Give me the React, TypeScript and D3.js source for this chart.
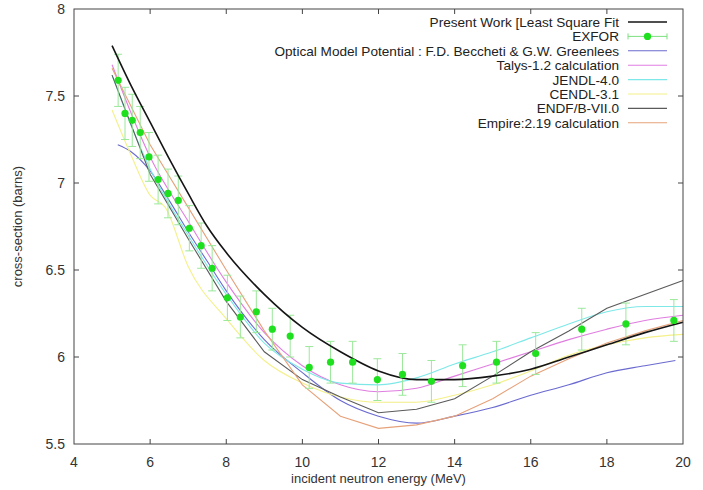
import React from 'react';
import * as d3 from 'd3';

// EXFOR measurements
const exforE = [5.16, 5.34, 5.53, 5.74, 5.97, 6.21, 6.47, 6.74, 7.03, 7.34, 7.63, 8.03, 8.37, 8.79, 9.21, 9.68, 10.18, 10.74, 11.32, 11.97, 12.63, 13.39, 14.21, 15.1, 16.13, 17.34, 18.5, 19.76];
const exforXS = [7.59, 7.40, 7.36, 7.29, 7.15, 7.02, 6.94, 6.90, 6.74, 6.64, 6.51, 6.34, 6.23, 6.26, 6.16, 6.12, 5.94, 5.97, 5.97, 5.87, 5.90, 5.86, 5.95, 5.97, 6.02, 6.16, 6.19, 6.21];
const exforErr = [0.15, 0.15, 0.15, 0.15, 0.14, 0.14, 0.14, 0.14, 0.13, 0.13, 0.13, 0.13, 0.12, 0.12, 0.12, 0.12, 0.12, 0.12, 0.12, 0.12, 0.12, 0.12, 0.12, 0.12, 0.12, 0.12, 0.12, 0.12];

// least square fit (present work)
const fitE = [5, 5.5, 6, 6.5, 7, 7.5, 8, 9, 10, 11, 12, 13, 14, 15, 16, 17, 18, 19, 20];
const fitXS = [7.79, 7.56, 7.35, 7.14, 6.94, 6.75, 6.60, 6.36, 6.17, 6.03, 5.92, 5.87, 5.87, 5.89, 5.93, 6.00, 6.07, 6.14, 6.20];

// optical model potential
const omE = [5.15, 5.5, 6, 6.5, 7, 7.5, 8, 9, 10, 11, 12, 13, 14, 15, 16, 17, 18, 19, 19.8];
const omXS = [7.22, 7.18, 7.07, 6.90, 6.72, 6.55, 6.38, 6.10, 5.91, 5.75, 5.66, 5.62, 5.66, 5.71, 5.78, 5.84, 5.91, 5.95, 5.98];

const talysE = [5, 6, 7, 8, 9, 10, 11, 12, 13, 14, 15, 16, 17, 18, 19, 20];
const talysXS = [7.68, 7.15, 6.78, 6.43, 6.14, 5.95, 5.84, 5.80, 5.82, 5.89, 5.96, 6.03, 6.10, 6.16, 6.21, 6.24];

const jendlE = [5, 5.5, 6, 7, 8, 9, 10, 11, 12, 13, 14, 15, 16, 17, 18, 19, 20];
const jendlXS = [7.62, 7.33, 7.08, 6.70, 6.36, 6.08, 5.93, 5.85, 5.84, 5.88, 5.96, 6.03, 6.11, 6.19, 6.26, 6.29, 6.29];

const cendlE = [5, 5.5, 6, 6.4, 7, 8, 9, 10, 11, 12, 13, 14, 15, 16, 17, 18, 19, 20];
const cendlXS = [7.42, 7.16, 6.93, 6.86, 6.52, 6.22, 5.98, 5.85, 5.77, 5.74, 5.74, 5.78, 5.84, 5.92, 6.01, 6.07, 6.11, 6.13];

const endfE = [5, 6, 7, 8, 9, 10, 11, 12, 13, 14, 15, 16, 17, 18, 20];
const endfXS = [7.62, 7.05, 6.68, 6.32, 6.03, 5.87, 5.77, 5.68, 5.70, 5.76, 5.89, 6.03, 6.15, 6.28, 6.44];

const empireE = [5, 6, 7, 8, 9, 10, 11, 12, 13, 14, 15, 16, 17, 18, 19, 20];
const empireXS = [7.66, 7.22, 6.86, 6.50, 6.15, 5.84, 5.66, 5.59, 5.61, 5.66, 5.76, 5.89, 5.99, 6.08, 6.15, 6.21];

const xTicks = [4, 6, 8, 10, 12, 14, 16, 18, 20];
const yTicks = [5.5, 6, 6.5, 7, 7.5, 8];

const W = 703;
const H = 490;
const left = 74, right = 683, top = 9, bottom = 444;
const font = 'Liberation Sans, Arial, sans-serif';

const x = d3.scaleLinear().domain([4, 20]).range([left, right]);
const y = d3.scaleLinear().domain([5.5, 8]).range([bottom, top]);

const series = [
  { name: 'Optical Model Potential : F.D. Beccheti & G.W. Greenlees', e: omE, v: omXS, color: '#6a6ad0', smooth: true },
  { name: 'Talys-1.2 calculation', e: talysE, v: talysXS, color: '#e07ee0', smooth: true },
  { name: 'JENDL-4.0', e: jendlE, v: jendlXS, color: '#7ee8e8', smooth: true },
  { name: 'CENDL-3.1', e: cendlE, v: cendlXS, color: '#f4f08a', smooth: true },
  { name: 'ENDF/B-VII.0', e: endfE, v: endfXS, color: '#5a5a5a', smooth: false },
  { name: 'Empire:2.19 calculation', e: empireE, v: empireXS, color: '#e6a27a', smooth: false },
];

const pathFor = (e: number[], v: number[], smooth: boolean) =>
  d3.line<number>()
    .x((_, i) => x(e[i]))
    .y(d => y(d))
    .curve(smooth ? d3.curveMonotoneX : d3.curveLinear)(v) || '';

export default function App() {
  const legendRows = [
    'Present Work [Least Square Fit',
    'EXFOR',
    ...series.map(s => s.name),
  ];
  const rowY = (i: number) => 22 + i * 14.4;
  const txt = '#333';

  return (
    <svg width={W} height={H} style={{ position: 'absolute', left: 0, top: 0, background: '#fff' }}>
      {/* calculated curves */}
      {series.map(s => (
        <path key={s.name} d={pathFor(s.e, s.v, s.smooth)} fill="none" stroke={s.color} strokeWidth={1.1} />
      ))}

      {/* EXFOR error bars */}
      {exforE.map((e, i) => {
        const cx = x(e);
        const y1 = y(exforXS[i] - exforErr[i]);
        const y2 = y(exforXS[i] + exforErr[i]);
        return (
          <g key={'err' + i} stroke="#9be89b" strokeWidth={1}>
            <line x1={cx} x2={cx} y1={y1} y2={y2} />
            <line x1={cx - 4} x2={cx + 4} y1={y1} y2={y1} />
            <line x1={cx - 4} x2={cx + 4} y1={y2} y2={y2} />
          </g>
        );
      })}

      {/* present work fit */}
      <path d={pathFor(fitE, fitXS, true)} fill="none" stroke="#151515" strokeWidth={1.6} />

      {/* EXFOR points */}
      {exforE.map((e, i) => (
        <circle key={'pt' + i} cx={x(e)} cy={y(exforXS[i])} r={3.6} fill="#1fe01f" />
      ))}

      {/* frame */}
      <rect x={left} y={top} width={right - left} height={bottom - top} fill="none" stroke="#444" strokeWidth={1} />
      {xTicks.slice(1, -1).map(t => (
        <g key={'xt' + t} stroke="#444">
          <line x1={x(t)} x2={x(t)} y1={bottom} y2={bottom - 5} />
          <line x1={x(t)} x2={x(t)} y1={top} y2={top + 5} />
        </g>
      ))}
      {yTicks.slice(1, -1).map(t => (
        <g key={'yt' + t} stroke="#444">
          <line x1={left} x2={left + 5} y1={y(t)} y2={y(t)} />
          <line x1={right} x2={right - 5} y1={y(t)} y2={y(t)} />
        </g>
      ))}

      {/* tick labels */}
      {xTicks.map(t => (
        <text key={'xl' + t} x={x(t)} y={bottom + 23} textAnchor="middle" fontFamily={font} fontSize={14} fill={txt}>
          {t}
        </text>
      ))}
      {yTicks.map(t => (
        <text key={'yl' + t} x={left - 9} y={y(t) + 5} textAnchor="end" fontFamily={font} fontSize={14} fill={txt}>
          {t}
        </text>
      ))}

      {/* axis titles */}
      <text x={(left + right) / 2} y={483} textAnchor="middle" fontFamily={font} fontSize={13} fill={txt}>
        incident neutron energy (MeV)
      </text>
      <text transform={`translate(22, ${(top + bottom) / 2}) rotate(-90)`} textAnchor="middle" fontFamily={font} fontSize={13} fill={txt}>
        cross-section (barns)
      </text>

      {/* legend */}
      {legendRows.map((name, i) => (
        <text key={'lg' + i} x={619} y={rowY(i) + 5} textAnchor="end" fontFamily={font} fontSize={13.6} fill="#222">
          {name}
        </text>
      ))}
      <line x1={628} x2={667} y1={rowY(0)} y2={rowY(0)} stroke="#151515" strokeWidth={1.6} />
      <g stroke="#7ee07e" strokeWidth={1}>
        <line x1={628} x2={667} y1={rowY(1)} y2={rowY(1)} />
        <line x1={628} x2={628} y1={rowY(1) - 3} y2={rowY(1) + 3} />
        <line x1={667} x2={667} y1={rowY(1) - 3} y2={rowY(1) + 3} />
      </g>
      <circle cx={647.5} cy={rowY(1)} r={3.6} fill="#1fe01f" />
      {series.map((s, i) => (
        <line key={'ls' + i} x1={628} x2={667} y1={rowY(i + 2)} y2={rowY(i + 2)} stroke={s.color} strokeWidth={1.1} />
      ))}
    </svg>
  );
}
